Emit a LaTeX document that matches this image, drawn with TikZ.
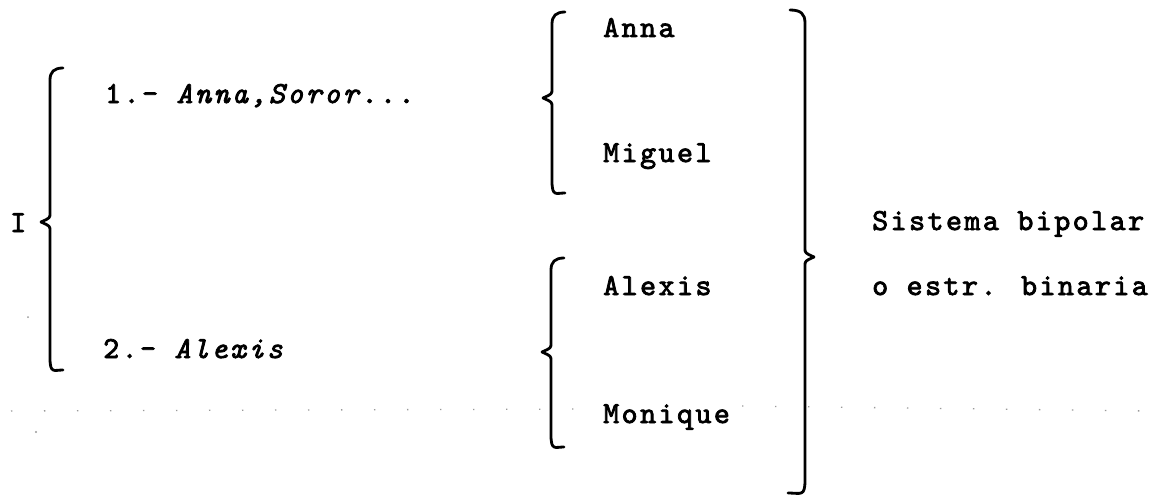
\documentclass[tikz,border=0pt]{standalone}
\usepackage{fontspec}
\newfontfamily\typew[Extension=.otf, UprightFont=*-regular, ItalicFont=*-italic, BoldFont=*-regular, BoldItalicFont=*-italic, FakeBold=2.6, LetterSpace=8]{lmmono10}
\newcommand\drawlbr[4]{% line x, top y, tip y, bottom y
  \draw[bracestroke] (#1+13,-#2) .. controls (#1+4,-#2) and (#1,-#2-4) .. (#1,-#2-12)
    -- (#1,-#3+9) .. controls (#1,-#3+4) .. (#1-9,-#3)
    .. controls (#1,-#3-4) .. (#1,-#3-9)
    -- (#1,-#4+12) .. controls (#1,-#4-4) and (#1+4,-#4) .. (#1+13,-#4);}
\newcommand\drawrbr[4]{%
  \draw[bracestroke] (#1-15,-#2) .. controls (#1-4,-#2) and (#1,-#2-4) .. (#1,-#2-13)
    -- (#1,-#3+9) .. controls (#1,-#3+4) .. (#1+9,-#3)
    .. controls (#1,-#3-4) .. (#1,-#3-9)
    -- (#1,-#4+13) .. controls (#1,-#4-4) and (#1-4,-#4) .. (#1-17,-#4);}
\tikzset{
  bracestroke/.style={line width=2.8pt, line cap=round, line join=round},
  lbl/.style={anchor=base west, inner sep=0pt, font=\typew\fontsize{30.5}{30.5}\selectfont},
  specks/.style={gray!80, line width=1.3pt, dash pattern=on 1.3pt off 31.7pt}
}
\begin{document}
\begin{tikzpicture}[x=1pt,y=1pt]
\useasboundingbox[fill=white] (0,0) rectangle (1165,-495);
% scan dots
\draw[specks] (11,-411) -- (590,-409);
\draw[specks] (742,-406) -- (1150,-411);
\fill[gray!80] (36,-432) circle (1.2pt);
\fill[gray!80] (28,-317) circle (1pt);
% braces
\drawlbr{50}{68}{222}{370}
\drawlbr{552}{12}{98}{193}
\drawlbr{551}{258}{352}{447}
\drawrbr{805}{10}{257}{493}
% texts
\node[lbl] (I) at (10,-232) {I};
\node[lbl] (one) at (105,-103) {1.- \textit{Anna,Soror...}};
\node[lbl] (two) at (103,-358) {2.- \textit{Alexis}};
\node[lbl] (anna) at (603,-37) {Anna};
\node[lbl] (miguel) at (603,-162) {Miguel};
\node[lbl] (alexis) at (603,-295) {Alexis};
\node[lbl] (monique) at (603,-423) {Monique};
\node[lbl] (sis) at (872,-230) {Sistema bipolar};
\node[lbl] (estr) at (872,-295) {o estr. binaria};
\end{tikzpicture}
\end{document}
